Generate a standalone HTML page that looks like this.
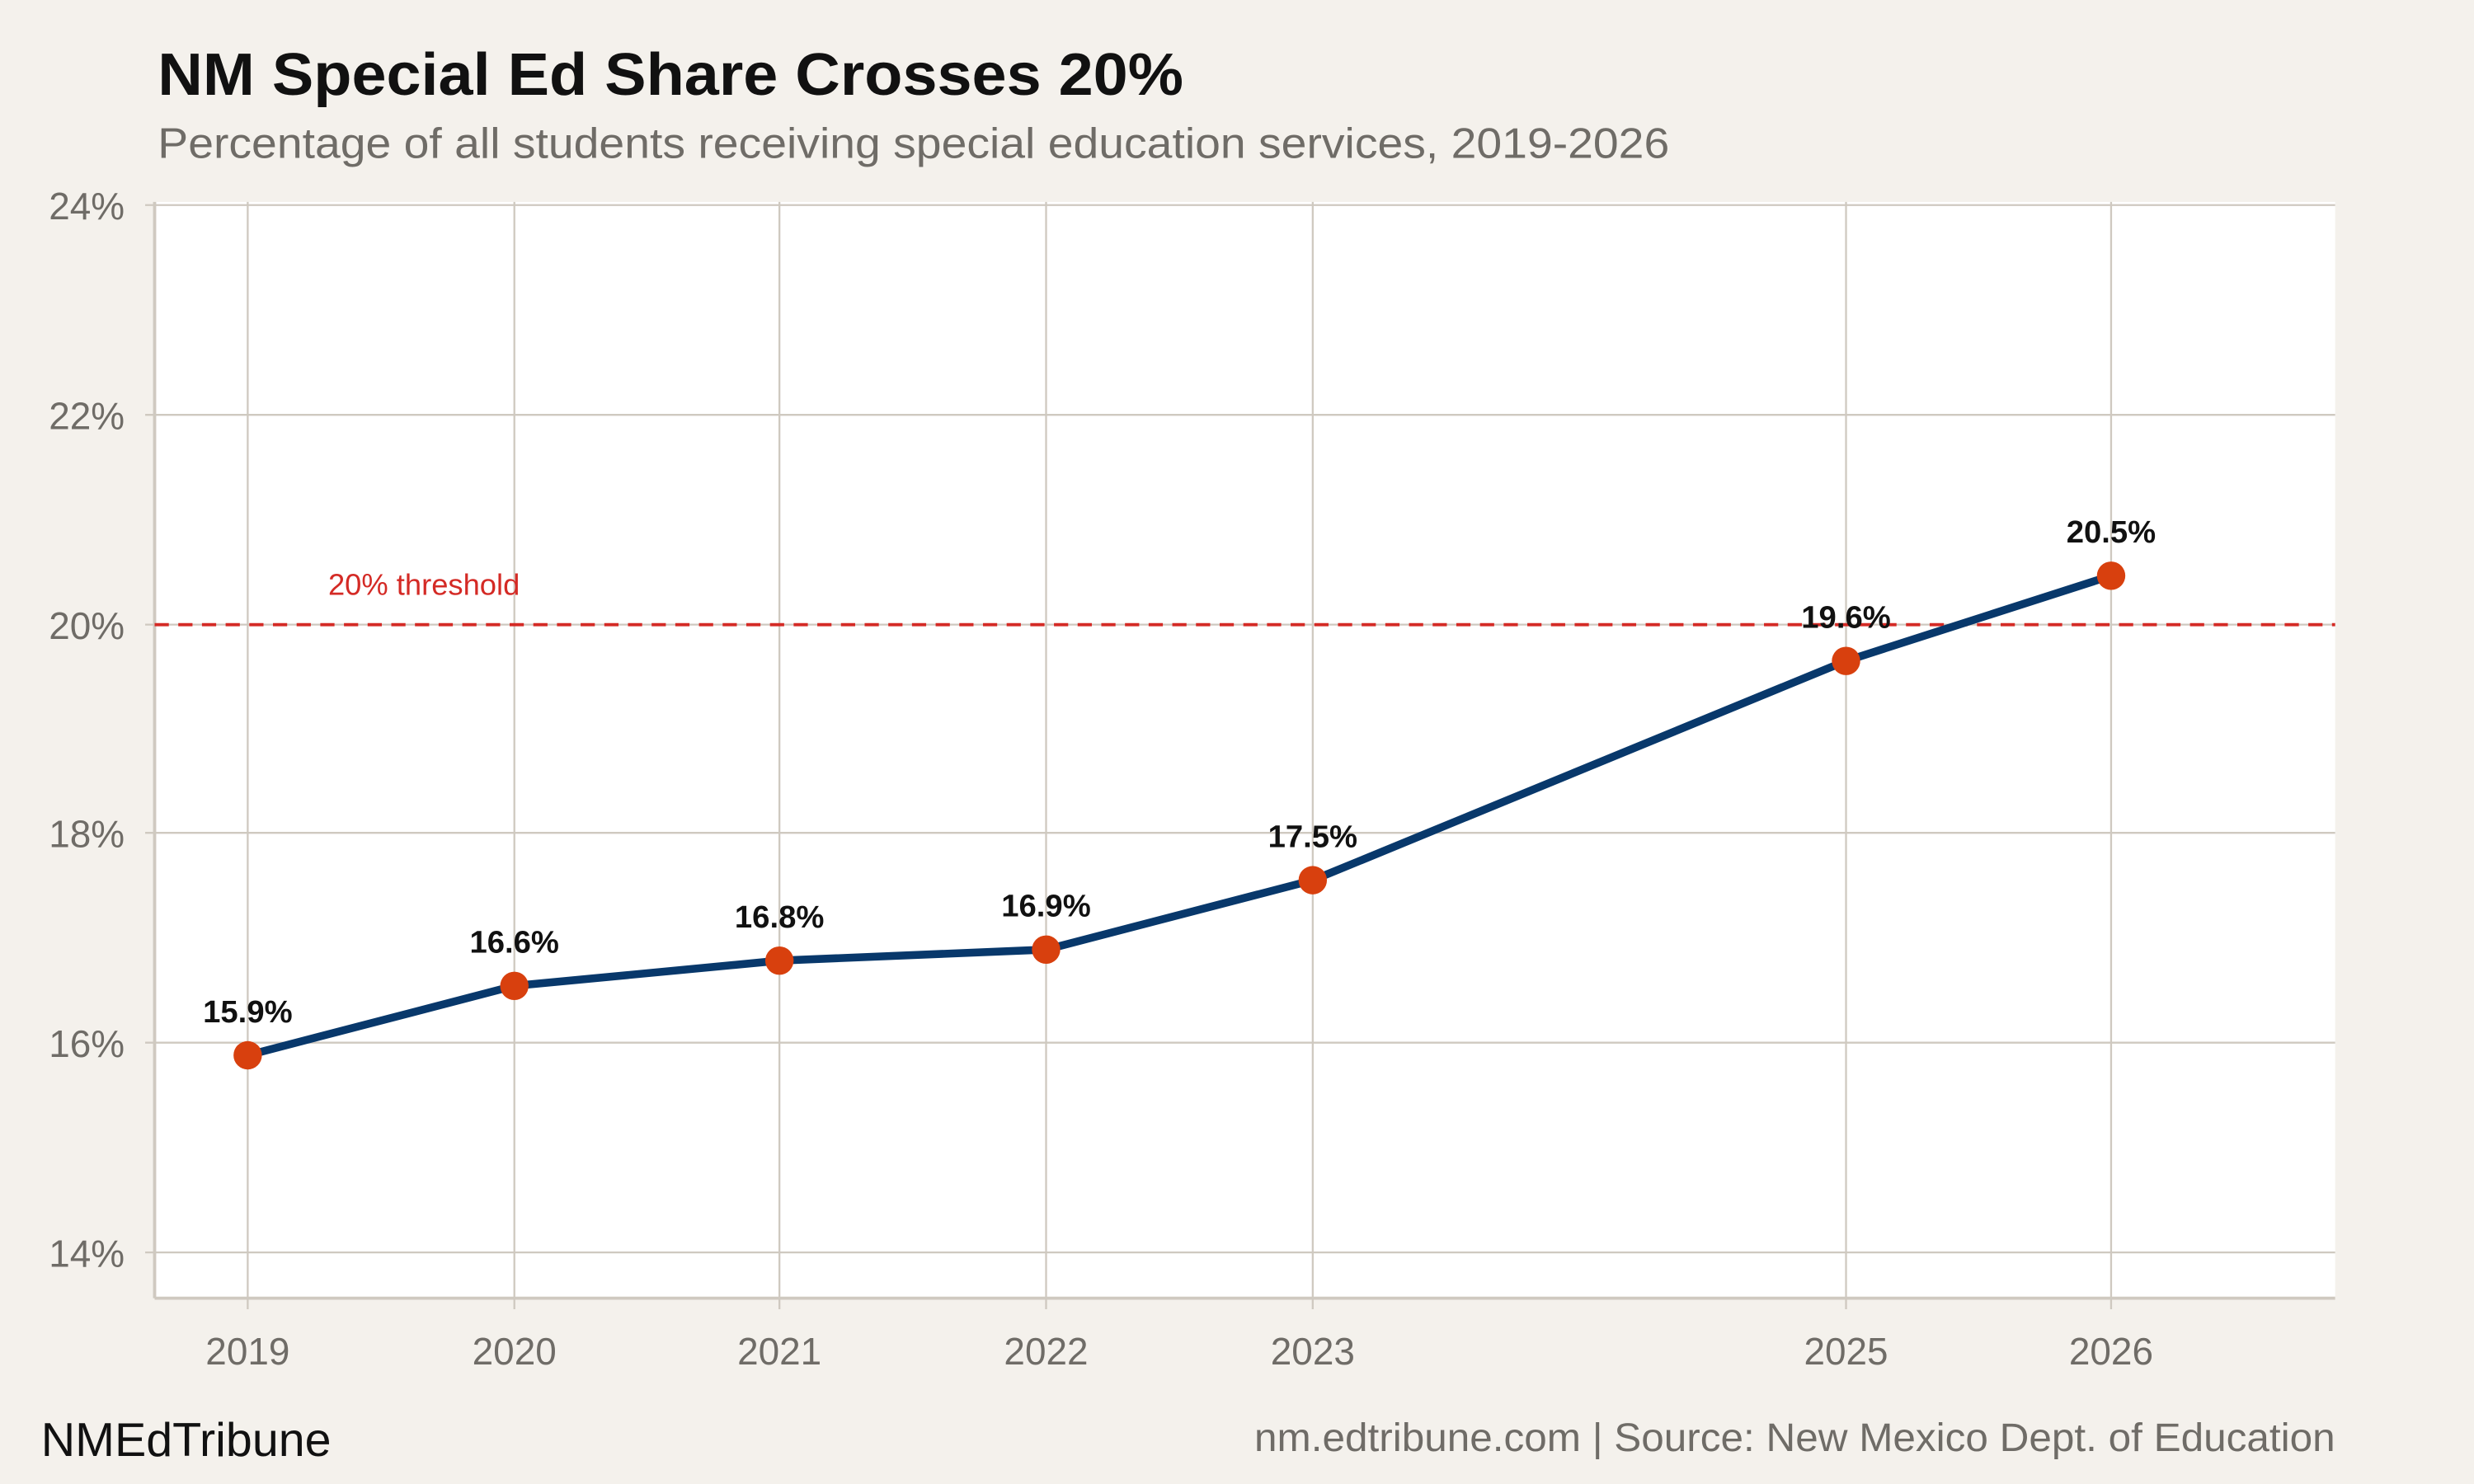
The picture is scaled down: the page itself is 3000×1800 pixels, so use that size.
<!DOCTYPE html>
<html><head><meta charset="utf-8"><style>
html,body{margin:0;padding:0;background:#f4f1ec;}
svg{display:block;}
text{font-family:"Liberation Sans",sans-serif;}
</style></head><body>
<svg width="3000" height="1800" viewBox="0 0 1568 940.8" preserveAspectRatio="none" xmlns="http://www.w3.org/2000/svg">
<rect width="1568" height="941" fill="#f4f1ec"/>
<text x="100" y="60" font-size="38" font-weight="bold" fill="#111" textLength="650" lengthAdjust="spacingAndGlyphs">NM Special Ed Share Crosses 20%</text>
<text x="100" y="100" font-size="27" fill="#6f6c67" textLength="958" lengthAdjust="spacingAndGlyphs">Percentage of all students receiving special education services, 2019-2026</text>
<rect x="98" y="128" width="1382" height="695" fill="#fff"/>
<g stroke="#cfc9c0" stroke-width="1.2">
<line x1="92" y1="130" x2="1480" y2="130"/>
<line x1="92" y1="263" x2="1480" y2="263"/>
<line x1="92" y1="396" x2="1480" y2="396"/>
<line x1="92" y1="528" x2="1480" y2="528"/>
<line x1="92" y1="661" x2="1480" y2="661"/>
<line x1="92" y1="794" x2="1480" y2="794"/>
<line x1="157" y1="128" x2="157" y2="830"/>
<line x1="326" y1="128" x2="326" y2="830"/>
<line x1="494" y1="128" x2="494" y2="830"/>
<line x1="663" y1="128" x2="663" y2="830"/>
<line x1="832" y1="128" x2="832" y2="830"/>
<line x1="1170" y1="128" x2="1170" y2="830"/>
<line x1="1338" y1="128" x2="1338" y2="830"/>
</g>
<g stroke="#cfc9c0" stroke-width="2">
<line x1="98" y1="128" x2="98" y2="823"/>
<line x1="98" y1="823" x2="1480" y2="823"/>
</g>
<g font-size="24" fill="#6f6c67" text-anchor="end">
<text x="79" y="139">24%</text>
<text x="79" y="272">22%</text>
<text x="79" y="405">20%</text>
<text x="79" y="537">18%</text>
<text x="79" y="670">16%</text>
<text x="79" y="803">14%</text>
</g>
<g font-size="24" fill="#6f6c67" text-anchor="middle">
<text x="157" y="865">2019</text>
<text x="326" y="865">2020</text>
<text x="494" y="865">2021</text>
<text x="663" y="865">2022</text>
<text x="832" y="865">2023</text>
<text x="1170" y="865">2025</text>
<text x="1338" y="865">2026</text>
</g>
<line x1="98" y1="396" x2="1480" y2="396" stroke="#d42a25" stroke-width="2" stroke-dasharray="9,6"/>
<text x="208" y="377" font-size="19" fill="#d42a25">20% threshold</text>
<polyline points="157,669 326,625 494,609 663,602 832,558 1170,419 1338,365" fill="none" stroke="#08386b" stroke-width="5" stroke-linejoin="round"/>
<g fill="#d8400e">
<circle cx="157" cy="669" r="9"/><circle cx="326" cy="625" r="9"/><circle cx="494" cy="609" r="9"/><circle cx="663" cy="602" r="9"/><circle cx="832" cy="558" r="9"/><circle cx="1170" cy="419" r="9"/><circle cx="1338" cy="365" r="9"/>
</g>
<g font-size="20" font-weight="bold" fill="#111" text-anchor="middle">
<text x="157" y="648">15.9%</text>
<text x="326" y="604">16.6%</text>
<text x="494" y="588">16.8%</text>
<text x="663" y="581">16.9%</text>
<text x="832" y="537">17.5%</text>
<text x="1170" y="398">19.6%</text>
<text x="1338" y="344">20.5%</text>
</g>
<text x="26" y="923" font-size="30" fill="#111">NMEdTribune</text>
<text x="1480" y="920" font-size="25" fill="#6f6c67" text-anchor="end" textLength="685" lengthAdjust="spacingAndGlyphs">nm.edtribune.com | Source: New Mexico Dept. of Education</text>
</svg>
</body></html>
